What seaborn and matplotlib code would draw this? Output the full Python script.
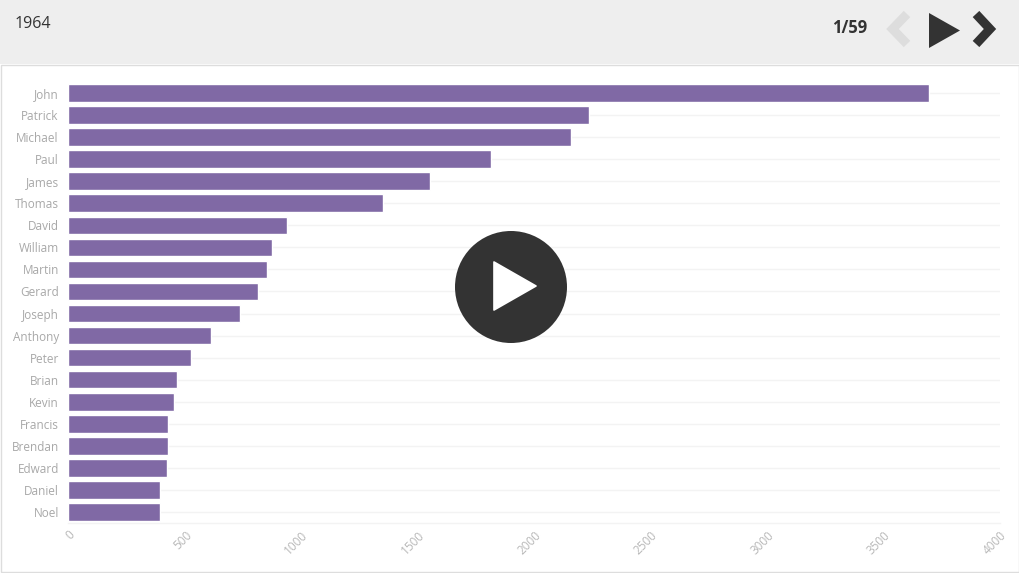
import pandas as pd
import matplotlib
matplotlib.use("Agg")
import matplotlib.pyplot as plt
from matplotlib.patches import Circle, Polygon, Rectangle
import seaborn as sns

sns.set_theme(style="white")
plt.rcParams['font.family'] = ['Open Sans', 'DejaVu Sans']

# ============================================================
# Data
# ============================================================
names = ["John", "Patrick", "Michael", "Paul", "James", "Thomas", "David", "William",
         "Martin", "Gerard", "Joseph", "Anthony", "Peter", "Brian", "Kevin", "Francis",
         "Brendan", "Edward", "Daniel", "Noel"]
counts = [3695, 2236, 2159, 1815, 1553, 1350, 937, 874,
          851, 814, 737, 614, 527, 464, 451, 429,
          427, 425, 395, 394]
x_ticks = [0, 500, 1000, 1500, 2000, 2500, 3000, 3500, 4000]
year_label = "1964"
step_label = "1/59"

W, H = 1020, 573
GRID = "#f3f3f3"
LABEL = "#a8a8a8"
DARK = "#333333"

fig = plt.figure(figsize=(W / 100, H / 100), dpi=100, facecolor="white")

# ============================================================
# Page: header and panel frame, in pixels
# ============================================================
page = fig.add_axes([0, 0, 1, 1], zorder=0)
page.set_xlim(0, W)
page.set_ylim(H, 0)
page.axis("off")
page.add_patch(Rectangle((0, 0), W, 64, color="#eeeeee", lw=0))
page.add_patch(Rectangle((0.5, 64.5), W - 1, 507.5, fc="white", ec="#dddddd", lw=1))

# ============================================================
# Bars
# ============================================================
ax = fig.add_axes([68.5 / W, 1 - 523 / H, 931.5 / W, 441 / H], zorder=1)
ax.patch.set_alpha(0)
df = pd.DataFrame({"name": names, "count": counts})
sns.barplot(data=df, x="count", y="name", orient="h", color="#8069a5", saturation=1,
            width=0.8, ax=ax, zorder=3)
ax.set_xlim(0, 4000)
ax.set_ylim(len(names) - 0.5, -0.5)
ax.set_xlabel("")
ax.set_ylabel("")
ax.set_xticks(x_ticks)
ax.set_xticklabels([str(t) for t in x_ticks], rotation=45, ha="right", rotation_mode="anchor")
ax.grid(axis="y", color=GRID, linewidth=1, zorder=0)
ax.set_axisbelow(True)
ax.tick_params(axis="x", length=5, width=1, color=GRID, labelsize=8.5, labelcolor="#b8b8b8", pad=-1)
ax.tick_params(axis="y", length=4, width=1, color=GRID, labelsize=8.5, labelcolor=LABEL, pad=3)
for side in ["top", "left", "right"]:
    ax.spines[side].set_visible(False)
ax.spines["bottom"].set_color(GRID)
ax.spines["bottom"].set_linewidth(1)

# ============================================================
# Player controls, in pixels
# ============================================================
ui = fig.add_axes([0, 0, 1, 1], zorder=2)
ui.set_xlim(0, W)
ui.set_ylim(H, 0)
ui.axis("off")
ui.text(15, 23.5, year_label, fontsize=11.5, color=DARK, va="center", ha="left")
ui.text(850, 28, step_label, fontsize=12, color=DARK, va="center", ha="center", fontweight="bold")
ui.plot([907, 892.5, 907], [14, 29, 44], color="#dddddd", lw=6.5, solid_joinstyle="miter", solid_capstyle="butt")
ui.add_patch(Polygon([(929, 13), (960, 30.5), (929, 48)], color=DARK, lw=0))
ui.plot([976, 990, 976], [14, 29, 44], color=DARK, lw=6.5, solid_joinstyle="miter", solid_capstyle="butt")
ui.add_patch(Circle((511, 287), 56, color=DARK, lw=0))
ui.add_patch(Polygon([(494, 262), (536, 286), (494, 310)], fc="white", ec="white", lw=1.2, joinstyle="round"))

fig.savefig("out.png", dpi=100)
